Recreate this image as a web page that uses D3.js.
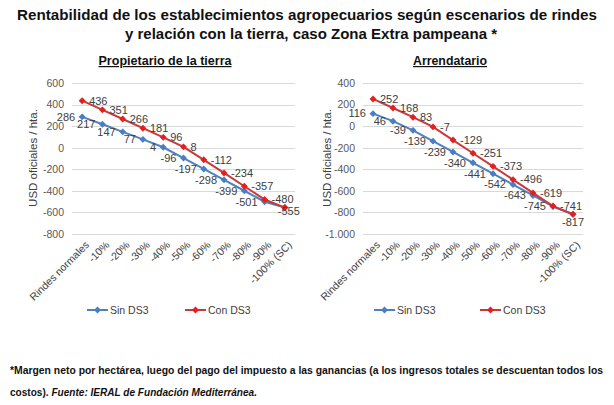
<!DOCTYPE html>
<html><head><meta charset="utf-8">
<script src="https://cdn.jsdelivr.net/npm/d3@7"></script>
<style>body{margin:0;background:#fff}svg{display:block}</style>
</head><body>
<svg id="c" width="614" height="405"></svg>
<script>
const categories = ["Rindes normales","-10%","-20%","-30%","-40%","-50%","-60%","-70%","-80%","-90%","-100% (SC)"];
const propSin = [286,217,147,77,4,-96,-197,-298,-399,-501,-555];
const propCon = [436,351,266,181,96,8,-112,-234,-357,-480,-555];
const arrSin = [116,46,-39,-139,-239,-340,-441,-542,-643,-745,-817];
const arrCon = [252,168,83,-7,-129,-251,-373,-496,-619,-741,-817];
const propTicks = [600,400,200,0,-200,-400,-600,-800];
const arrTicks = [400,200,0,-200,-400,-600,-800,-1000];
const seriesNames = ["Sin DS3","Con DS3"];
const titleLines = ["Rentabilidad de los establecimientos agropecuarios según escenarios de rindes","y relación con la tierra, caso Zona Extra pampeana *"];
const subtitles = ["Propietario de la tierra","Arrendatario"];
const yTitle = "USD oficiales / hta.";

const BLUE = "#4F81BD", BLUE_M = "#4A7EC4", RED = "#C8393B", RED_M = "#E3201F";
const FONT = "'Liberation Sans', Arial, sans-serif";
const svg = d3.select("#c").style("font-family", FONT);

// Title
svg.append("text").attr("x",307).attr("y",20).attr("text-anchor","middle")
  .attr("font-size",15).attr("font-weight","bold").attr("fill","#111")
  .attr("textLength",580).attr("lengthAdjust","spacingAndGlyphs").text(titleLines[0]);
svg.append("text").attr("x",311).attr("y",39).attr("text-anchor","middle")
  .attr("font-size",15).attr("font-weight","bold").attr("fill","#111")
  .attr("textLength",372).attr("lengthAdjust","spacingAndGlyphs").text(titleLines[1]);

const fmt = v => d3.format(",")(v).replace(/,/g,".").replace(/\u2212/g,"-");

function chart(cfg){
  const g = svg.append("g");
  const x = d3.scaleBand().domain(categories).range([cfg.x0, cfg.x1]);
  const y = d3.scaleLinear().domain([cfg.ticks[0], cfg.ticks[cfg.ticks.length-1]]).range([83, 234]);
  const cx = c => x(c) + x.bandwidth()/2;

  g.append("text").attr("x",cfg.subX).attr("y",65).attr("text-anchor","middle")
    .attr("font-size",12).attr("font-weight","bold").attr("fill","#111")
    .attr("text-decoration","underline")
    .attr("textLength",cfg.subLen).attr("lengthAdjust","spacingAndGlyphs").text(cfg.sub);

  // gridlines
  g.append("g").selectAll("line").data(cfg.ticks).join("line")
    .attr("x1",cfg.x0).attr("x2",cfg.x1)
    .attr("y1",d=>Math.round(y(d))+0.5).attr("y2",d=>Math.round(y(d))+0.5)
    .attr("stroke","#D9D9D9").attr("stroke-width",1);

  // y axis
  const ya = d3.axisLeft(y).tickValues(cfg.ticks).tickSize(0).tickPadding(8).tickFormat(fmt);
  const yg = g.append("g").attr("transform",`translate(${cfg.x0},0)`).call(ya);
  yg.select(".domain").remove();
  yg.selectAll("text").attr("font-family",FONT).attr("font-size",10.5).attr("fill","#595959");

  // x axis
  const xa = d3.axisBottom(x).tickSize(0).tickPadding(0);
  const xg = g.append("g").attr("transform",`translate(0,234)`).call(xa);
  xg.select(".domain").remove();
  xg.selectAll("text").attr("font-family",FONT).attr("font-size",10.5).attr("fill","#404040")
    .attr("text-anchor","end").attr("dy","0.35em")
    .attr("transform","translate(5,9) rotate(-45)");

  g.append("text").attr("transform",`translate(${cfg.yTitleX},158) rotate(-90)`)
    .attr("text-anchor","middle").attr("font-size",11.5).attr("fill","#404040").text(yTitle);

  const line = d3.line().x((d,i)=>cx(categories[i])).y(d=>y(d));
  const series = [{vals:cfg.sin, c:BLUE, m:BLUE_M, side:-1},{vals:cfg.con, c:RED, m:RED_M, side:1}];
  const diamond = d3.symbol().type(d3.symbolSquare).size(24);
  series.forEach(s=>{
    g.append("path").datum(s.vals).attr("d",line).attr("fill","none").attr("stroke",s.c).attr("stroke-width",2);
    g.append("g").selectAll("path").data(s.vals).join("path")
      .attr("d",diamond).attr("fill",s.m)
      .attr("transform",(d,i)=>`translate(${cx(categories[i])},${y(d)}) rotate(45)`);
  });
  // data labels
  const n = categories.length;
  series.forEach((s,si)=>{
    g.append("g").selectAll("text").data(s.vals).join("text")
      .filter((d,i)=> !(si===0 && i===n-1))
      .attr("x",(d,i)=> i===n-1 ? cx(categories[i])+cfg.lastDx : cx(categories[i]) + s.side*7)
      .attr("y",(d,i)=> i===n-1 ? y(d)+cfg.lastDy : y(d))
      .attr("dy","0.35em")
      .attr("text-anchor",(d,i)=> i===n-1 ? "middle" : (s.side<0?"end":"start"))
      .attr("font-size",11).attr("fill","#404040").text(d=>fmt(d));
  });

  // legend
  const lg = g.append("g").attr("transform","translate(0,310)");
  cfg.legend.forEach((lx,i)=>{
    const s = series[i];
    lg.append("line").attr("x1",lx).attr("x2",lx+21).attr("stroke",s.c).attr("stroke-width",2);
    lg.append("path").attr("d",diamond).attr("fill",s.m).attr("transform",`translate(${lx+10.5},0) rotate(45)`);
    lg.append("text").attr("x",lx+23).attr("dy","0.35em").attr("font-size",10.5).attr("fill","#404040").text(seriesNames[i]);
  });
}

chart({x0:72, x1:295, ticks:propTicks, sin:propSin, con:propCon, sub:subtitles[0], subX:165, subLen:133,
  yTitleX:37, lastDx:4, lastDy:4, legend:[87,185]});
chart({x0:363, x1:583, ticks:arrTicks, sin:arrSin, con:arrCon, sub:subtitles[1], subX:450, subLen:74,
  yTitleX:331, lastDx:0, lastDy:8, legend:[374,480]});

// Footnote
svg.append("text").attr("x",10).attr("y",374).attr("font-size",10.5).attr("font-weight","bold").attr("fill","#111")
  .attr("textLength",593).attr("lengthAdjust","spacingAndGlyphs")
  .text("*Margen neto por hectárea, luego del pago del impuesto a las ganancias (a los ingresos totales se descuentan todos los");
const f2 = svg.append("text").attr("x",10).attr("y",396).attr("font-size",10.5).attr("font-weight","bold").attr("fill","#111")
  .attr("textLength",247).attr("lengthAdjust","spacingAndGlyphs");
f2.append("tspan").text("costos). ");
f2.append("tspan").attr("font-style","italic").text("Fuente: IERAL de Fundación Mediterránea.");
</script>
</body></html>
